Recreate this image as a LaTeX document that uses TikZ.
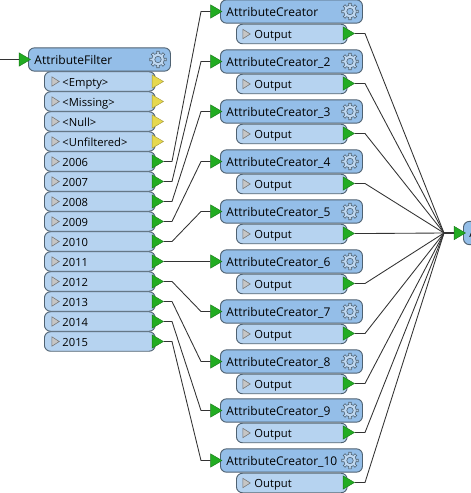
\documentclass[tikz,border=0pt]{standalone}
\usepackage{fontspec}
\setmainfont{Open Sans}
\usetikzlibrary{arrows.meta,shapes.geometric}
\definecolor{headblue}{HTML}{94BEE8}
\definecolor{portblue}{HTML}{B6D3F0}
\definecolor{edgegray}{HTML}{4F6272}
\definecolor{portgreen}{HTML}{22AC22}
\definecolor{portyellow}{HTML}{E6D84E}
\tikzset{
  headbox/.style={draw=edgegray,fill=headblue,line width=.7pt,rounded corners=4.5pt,
    minimum width=106.5pt,minimum height=17.5pt,text width=97.5pt,inner xsep=4.5pt,
    inner ysep=0pt,text height=7.8pt,text depth=1pt,align=left,font=\fontsize{9}{10}\selectfont},
  portbox/.style={draw=edgegray,fill=portblue,line width=.7pt,rounded corners=4.5pt,
    minimum width=83pt,minimum height=14.6pt,text width=70pt,inner xsep=0pt,
    inner ysep=0pt,text height=7.8pt,text depth=1pt,align=left,font=\fontsize{8.4}{10}\selectfont,
    execute at begin node={\hspace*{7pt}}},
  porttip/.style={isosceles triangle,isosceles triangle stretches,inner sep=0pt,
    minimum width=10pt,minimum height=8.5pt,draw=#1!70!black,fill=#1,line width=.3pt,anchor=apex},
  opentip/.style={isosceles triangle,isosceles triangle stretches,inner sep=0pt,
    minimum width=7pt,minimum height=5.5pt,draw=gray!90!black,fill=gray!45,line width=.4pt},
  wire/.style={draw=black!80,line width=.65pt},
  gear/.pic={
    \draw[edgegray,fill=headblue!60,line width=.45pt] (11:6.2)
      \foreach \a in {0,45,...,315} {
        -- (\a-11:6.2) -- (\a-9:8.4) -- (\a+9:8.4) -- (\a+11:6.2) -- (\a+34:6.2)
      } -- cycle;
    \draw[edgegray,fill=headblue,line width=.45pt] (0,0) circle (3.2);
  }
}
\begin{document}
\begin{tikzpicture}[x=.75pt,y=-.75pt]
  \useasboundingbox (0,0) rectangle (471,493);
  \clip (0,0) rectangle (471,493);
  \coordinate (hub) at (444,233);
  \coordinate (bend) at (201,0);
  % filter with its ports
  \node[headbox,anchor=west] (filter) at (28,59.5) {AttributeFilter};
  \pic at (158,59.5) {gear};
  \node[porttip=portgreen] (filterin) at (31,59.5) {};
  \foreach \i/\y/\lbl in {1/81.5/{<Empty>},2/101.5/{<Missing>},3/121.5/{<Null>},4/141.5/{<Unfiltered>}} {
    \node[portbox,anchor=west] (fp\i) at (44,\y) {\lbl};
    \node[opentip] (fo\i) at (54.5,\y) {};
    \node[porttip=portyellow] (fout\i) at (164,\y) {};
  }
  \foreach \i/\y/\lbl in {5/161.5/2006,6/181.5/2007,7/201.5/2008,8/221.5/2009,9/241.5/2010,
      10/261.5/2011,11/281.5/2012,12/301.5/2013,13/321.5/2014,14/341.5/2015} {
    \node[portbox,anchor=west] (fp\i) at (44,\y) {\lbl};
    \node[opentip] (fo\i) at (54.5,\y) {};
    \node[porttip=portgreen] (fout\i) at (164,\y) {};
  }
  % creators
  \foreach \j/\y/\lbl in {1/11.5/{},2/61.5/\_2,3/111.5/\_3,4/161.5/\_4,5/211.5/\_5,
      6/261.5/\_6,7/311.5/\_7,8/361.5/\_8,9/410.5/\_9,10/460.5/\_10} {
    \node[headbox,anchor=west] (ac\j) at (220,\y) {AttributeCreator\lbl};
    \pic at (350,\y) {gear};
    \node[porttip=portgreen] (acin\j) at (222.5,\y) {};
    \node[portbox,anchor=west] (acp\j) at (236,\y+22.5) {Output};
    \node[opentip] (aco\j) at (245.5,\y+22.5) {};
    \node[porttip=portgreen] (acout\j) at (355,\y+22) {};
  }
  % next transformer, cut off by the edge
  \node[headbox,anchor=west] (next) at (463,233) {A};
  \node[porttip=portgreen] (nextin) at (466,233) {};
  \draw[wire] (0,59.5) coordinate (start) -- (filterin.west);
  \foreach \i/\j in {5/1,6/2,7/3,8/4,9/5,10/6,11/7,12/8,13/9,14/10} {
    \draw[wire] (fout\i.apex) -- ++(8,0) -- (bend |- acin\j.west) -- (acin\j.west);
    \draw[wire] (acout\j.apex) -- ++(10,0) -- (hub);
  }
  \draw[wire,line width=1.2pt] (hub) -- (nextin.west);
\end{tikzpicture}
\end{document}
